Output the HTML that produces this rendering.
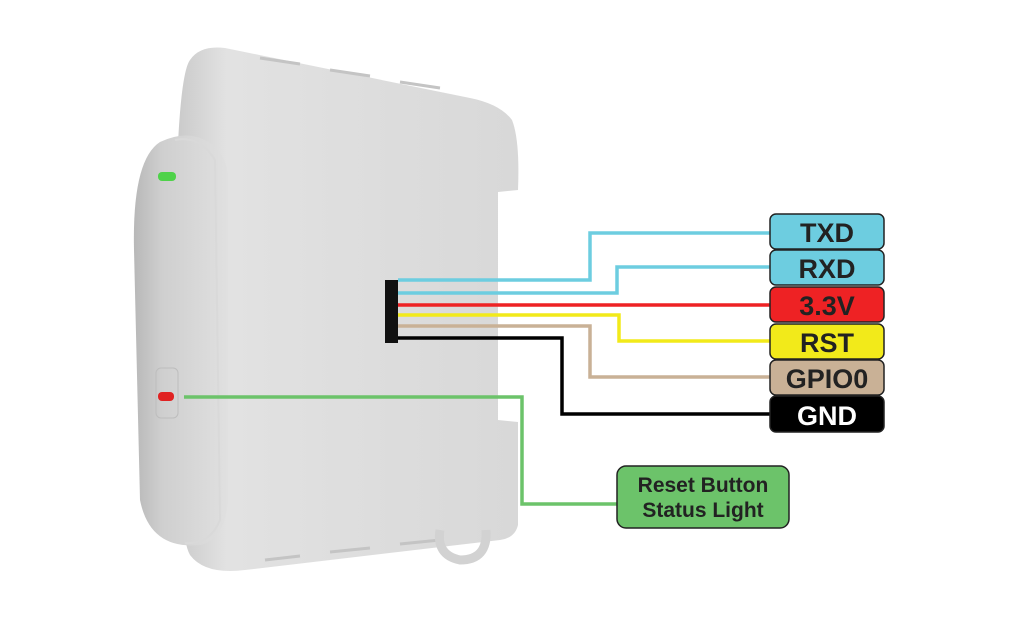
<!DOCTYPE html>
<html><head><meta charset="utf-8"><style>
html,body{margin:0;padding:0;background:#fff;width:1024px;height:626px;overflow:hidden}
text{font-family:"Liberation Sans",sans-serif;font-weight:bold}
</style></head><body>
<svg width="1024" height="626" viewBox="0 0 1024 626" xmlns="http://www.w3.org/2000/svg">
<defs>
<linearGradient id="bd" x1="0" y1="0" x2="1" y2="0">
<stop offset="0" stop-color="#c9c9c9"/><stop offset="0.15" stop-color="#e2e2e2"/><stop offset="1" stop-color="#d8d8d8"/>
</linearGradient>
<linearGradient id="pl" x1="0" y1="0" x2="1" y2="0">
<stop offset="0" stop-color="#b8b8b8"/><stop offset="0.3" stop-color="#cfcfcf"/><stop offset="1" stop-color="#e0e0e0"/>
</linearGradient>
</defs>
<!-- main body -->
<path d="M190 60 Q200 45 225 48 L470 98 Q500 104 512 120 Q520 140 518 190 L498 192 L498 205 L498 420 L518 422 L518 525 Q515 538 500 540 L245 570 Q205 575 190 555 Q175 530 175 300 Q175 80 190 60 Z" fill="url(#bd)"/>
<!-- ridges -->
<path d="M260 58 L300 64 M330 70 L370 76 M400 82 L440 88 M265 560 L300 556 M330 552 L370 548 M400 544 L440 540" stroke="#c4c4c4" stroke-width="3" fill="none"/>
<!-- loop bottom -->
<path d="M440 530 Q436 555 460 560 Q488 560 486 530" stroke="#d2d2d2" stroke-width="9" fill="none"/>
<!-- left pill -->
<path d="M160 142 Q185 130 205 140 Q225 150 228 175 L228 500 Q225 540 200 545 Q150 550 140 500 L134 250 Q132 160 160 142 Z" fill="url(#pl)"/>
<path d="M175 140 Q200 135 215 160 L220 520 Q210 545 185 543" fill="none" stroke="#d9d9d9" stroke-width="2"/>
<!-- LEDs -->
<rect x="158" y="172" width="18" height="9" rx="4" fill="#4fd24a"/>
<rect x="156" y="368" width="22" height="50" rx="5" fill="none" stroke="#bdbdbd" stroke-width="1"/>
<rect x="158" y="392" width="16" height="9" rx="4" fill="#e02222"/>
<!-- connector -->
<rect x="385" y="280" width="13" height="63" fill="#111"/>
<!-- wires -->
<g fill="none" stroke-width="3.5">
<polyline points="398,280 590,280 590,233 772,233" stroke="#6dcde0"/>
<polyline points="398,293 617,293 617,267 772,267" stroke="#6dcde0"/>
<polyline points="398,305 772,305" stroke="#ee2224"/>
<polyline points="398,315 619,315 619,341 772,341" stroke="#f2ea1a"/>
<polyline points="398,326 590,326 590,377 772,377" stroke="#c9b196"/>
<polyline points="398,338 562,338 562,414 772,414" stroke="#000"/>
<polyline points="184,397 522,397 522,504 620,504" stroke="#6cc36a"/>
</g>
<!-- labels -->
<g stroke="#222" stroke-width="1.5">
<rect x="770" y="214" width="114" height="35" rx="6" fill="#6dcde0"/>
<rect x="770" y="250" width="114" height="35" rx="6" fill="#6dcde0"/>
<rect x="770" y="287" width="114" height="35" rx="6" fill="#ee2224"/>
<rect x="770" y="324" width="114" height="35" rx="6" fill="#f2ea1a"/>
<rect x="770" y="360" width="114" height="35" rx="6" fill="#c9b196"/>
<rect x="770" y="396" width="114" height="36" rx="6" fill="#000"/>
<rect x="617" y="466" width="172" height="62" rx="9" fill="#6cc36a"/>
</g>
<g font-size="27" text-anchor="middle" fill="#222">
<text x="827" y="242">TXD</text>
<text x="827" y="278">RXD</text>
<text x="827" y="315">3.3V</text>
<text x="827" y="352">RST</text>
<text x="827" y="388">GPIO0</text>
<text x="827" y="425" fill="#fff">GND</text>
</g>
<g font-size="21" text-anchor="middle" fill="#222">
<text x="703" y="492">Reset Button</text>
<text x="703" y="517">Status Light</text>
</g>
</svg>
</body></html>
